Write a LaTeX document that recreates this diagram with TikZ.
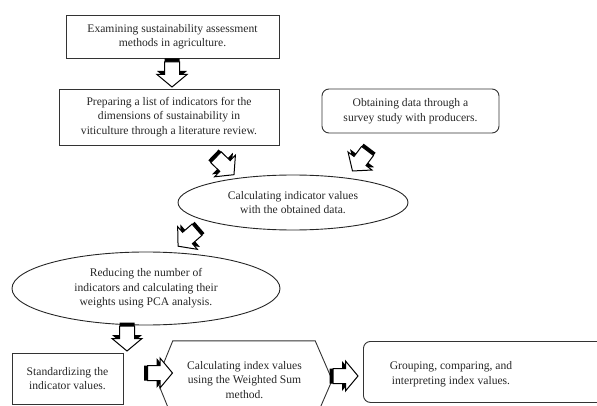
\documentclass[tikz,border=0pt]{standalone}
\usepackage{fontspec}
\setmainfont{Liberation Serif}
\usetikzlibrary{shapes.geometric,calc}
\begin{document}
\begin{tikzpicture}[x=1pt,y=-1pt,
  every node/.style={font=\fontsize{11.6}{14.5}\selectfont, text=black!85, align=center, inner sep=0pt},
  rect/.style={draw=black!80, line width=0.9pt},
  rbox/.style={draw=black!80, line width=0.9pt, rounded corners=7pt},
  ell/.style={draw=black!85, line width=0.9pt, ellipse},
  blockarrow/.pic={
    \fill[black] (-16,-7.5) -- (-3.5,-7.5) -- (-3.5,-15) -- (9,0) -- (-3.5,15) -- (-3.5,7.5) -- (-16,7.5) -- cycle;
    \draw[fill=white, line width=1pt, line join=miter] (-12.5,-7.5) -- (0,-7.5) -- (0,-15) -- (12.5,0) -- (0,15) -- (0,7.5) -- (-12.5,7.5) -- cycle;
  }]
\useasboundingbox (0,0) rectangle (597,406);
\clip (0,0) rectangle (597,406);

% top boxes
\node[rect, minimum width=213pt, minimum height=43pt] (b1) at (172.5,36.5)
  {Examining sustainability assessment\\methods in agriculture.};
\node[rect, minimum width=220pt, minimum height=56pt] (b2) at (169,117)
  {Preparing a list of indicators for the\\dimensions of sustainability in\\viticulture through a literature review.};
\node[rbox, minimum width=177pt, minimum height=44pt] (b3) at (410.5,111)
  {Obtaining data through a\\survey study with producers.};

% ellipses
\node[ell, minimum width=230pt, minimum height=55pt] (e1) at (293,202.5)
  {Calculating indicator values\\with the obtained data.};
\node[ell, minimum width=268pt, minimum height=73pt] (e2) at (146,288.5)
  {Reducing the number of\\indicators and calculating their\\weights using PCA analysis.};

% bottom row
\node[rect, minimum width=111pt, minimum height=51pt] (b4) at (67.5,378.5)
  {Standardizing the\\indicator values.};
\node[minimum width=175pt, minimum height=78pt] (hx) at (244.5,380)
  {Calculating index values\\using the Weighted Sum\\method.};
\draw[black!80, line width=0.9pt] (hx.west) -- ($(hx.north west)+(16,0)$) -- ($(hx.north east)+(-17,0)$)
  -- (hx.east) -- ($(hx.south east)+(-17,0)$) -- ($(hx.south west)+(16,0)$) -- cycle;
\node[rbox, minimum width=262pt, minimum height=61pt, anchor=north west] (b5) at (363,341) {};
\node (b5t) at (451,374) {Grouping, comparing, and\\interpreting index values.};

% block arrows
\path (172,74.5) pic[rotate=-90] {blockarrow};
\path (225,166) pic[rotate=-44] {blockarrow};
\path (360,161) pic[rotate=-127] {blockarrow};
\path (187.5,238) pic[rotate=-139] {blockarrow};
\path (127,338.5) pic[rotate=-90] {blockarrow};
\path (160,373) pic {blockarrow};
\path (345.5,376) pic {blockarrow};
\end{tikzpicture}
\end{document}
